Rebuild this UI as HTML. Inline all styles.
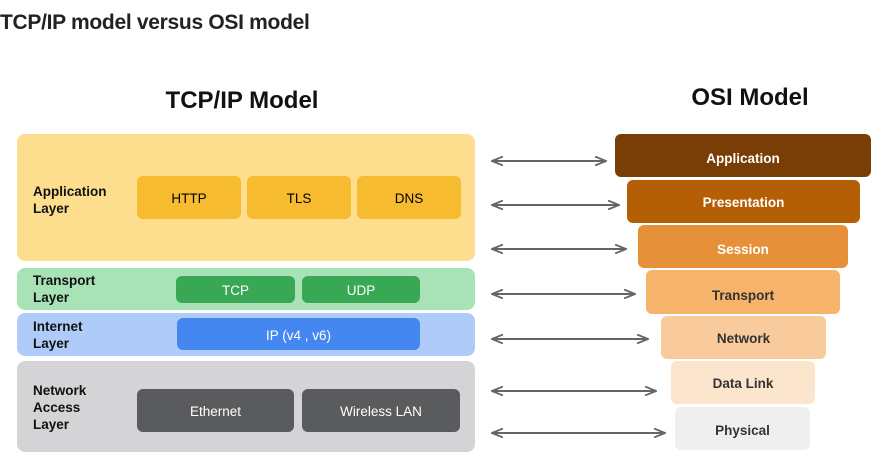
<!DOCTYPE html>
<html><head><style>
body{margin:0;width:888px;height:465px;background:#fff;position:relative;overflow:hidden;font-family:"Liberation Sans",sans-serif}
div{position:absolute;box-sizing:border-box}
.b{border-radius:6px;display:flex;align-items:center;justify-content:center;font-size:13.5px;padding-top:2px}
.l{left:33px;font-size:13.5px;font-weight:bold;color:#111;line-height:17px}
</style></head><body>
<div style="left:0;top:11px;font-size:21px;color:#222;font-weight:bold;letter-spacing:-0.3px;-webkit-text-stroke:0px">TCP/IP model versus OSI model</div>
<div style="left:142px;top:87px;width:200px;text-align:center;font-size:24px;font-weight:bold;color:#111">TCP/IP Model</div>
<div style="left:650px;top:84px;width:200px;text-align:center;font-size:24px;font-weight:bold;color:#111">OSI Model</div>

<div style="left:17px;top:134px;width:458px;height:127px;background:#fdde8f;border-radius:8px"></div>
<div class="l" style="top:183px">Application<br>Layer</div>
<div class="b" style="left:137px;top:176px;width:104px;height:43px;background:#f7bb2f">HTTP</div>
<div class="b" style="left:247px;top:176px;width:104px;height:43px;background:#f7bb2f">TLS</div>
<div class="b" style="left:357px;top:176px;width:104px;height:43px;background:#f7bb2f">DNS</div>

<div style="left:17px;top:268px;width:458px;height:42px;background:#a9e2b7;border-radius:8px"></div>
<div class="l" style="top:272px">Transport<br>Layer</div>
<div class="b" style="left:176px;top:276px;width:119px;height:27px;background:#39a854;color:#fff">TCP</div>
<div class="b" style="left:302px;top:276px;width:118px;height:27px;background:#39a854;color:#fff">UDP</div>

<div style="left:17px;top:313px;width:458px;height:43px;background:#afcbf7;border-radius:8px"></div>
<div class="l" style="top:318px">Internet<br>Layer</div>
<div class="b" style="left:177px;top:318px;width:243px;height:32px;background:#4587f0;color:#fff">IP (v4 , v6)</div>

<div style="left:17px;top:361px;width:458px;height:91px;background:#d4d4d6;border-radius:8px"></div>
<div class="l" style="top:382px">Network<br>Access<br>Layer</div>
<div class="b" style="left:137px;top:389px;width:157px;height:43px;background:#5a5b5d;color:#fff">Ethernet</div>
<div class="b" style="left:302px;top:389px;width:158px;height:43px;background:#5a5b5d;color:#fff">Wireless LAN</div>

<div class="b" style="left:615px;top:134px;width:256px;height:43px;background:#793e05;color:#fff;font-weight:bold;padding-top:6px">Application</div>
<div class="b" style="left:627px;top:180px;width:233px;height:43px;background:#b45f06;color:#fff;font-weight:bold">Presentation</div>
<div class="b" style="left:638px;top:225px;width:210px;height:43px;background:#e6913a;color:#fff;font-weight:bold;padding-top:5px">Session</div>
<div class="b" style="left:646px;top:270px;width:194px;height:44px;background:#f5b36c;color:#333;font-weight:bold;padding-top:6px">Transport</div>
<div class="b" style="left:661px;top:316px;width:165px;height:43px;background:#f9ca9c;color:#333;font-weight:bold">Network</div>
<div class="b" style="left:671px;top:361px;width:144px;height:43px;background:#fce5cd;color:#333;font-weight:bold">Data Link</div>
<div class="b" style="left:675px;top:407px;width:135px;height:43px;background:#efefef;color:#333;font-weight:bold;padding-top:3px">Physical</div>

<svg style="position:absolute;left:0;top:0" width="888" height="465">
<defs><marker id="a" markerWidth="12" markerHeight="10" refX="11" refY="5" orient="auto-start-reverse" markerUnits="userSpaceOnUse"><path d="M0,0.5 L11,5 L0,9.5" fill="none" stroke="#666" stroke-width="1.8"/></marker></defs>
<g stroke="#666" stroke-width="2" marker-start="url(#a)" marker-end="url(#a)">
<line x1="492" y1="161" x2="606" y2="161"/>
<line x1="492" y1="205" x2="619" y2="205"/>
<line x1="492" y1="249" x2="626" y2="249"/>
<line x1="492" y1="294" x2="635" y2="294"/>
<line x1="492" y1="339" x2="648" y2="339"/>
<line x1="492" y1="391" x2="656" y2="391"/>
<line x1="492" y1="433" x2="665" y2="433"/>
</g></svg>
</body></html>
